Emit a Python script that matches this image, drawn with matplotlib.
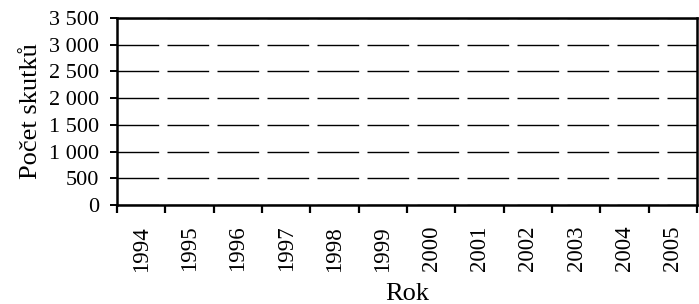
import matplotlib
matplotlib.use("Agg")
import matplotlib.pyplot as plt
import numpy as np

# chart has axes and grid only, no series drawn
years = ["1994", "1995", "1996", "1997", "1998", "1999",
         "2000", "2001", "2002", "2003", "2004", "2005"]
y_ticks = [0, 500, 1000, 1500, 2000, 2500, 3000, 3500]
y_labels = ["0", "500", "1 000", "1 500", "2 000", "2 500", "3 000", "3 500"]

plt.rcParams['font.family'] = ['Liberation Serif', 'DejaVu Serif']

fig = plt.figure(figsize=(6.99, 3.04), dpi=100)
ax = fig.add_axes([117/699, 1 - 205/304, 580/699, 187/304])

n = len(years)
ax.set_xlim(0, n)
ax.set_ylim(0, 3500)

# category ticks sit on the boundaries, labels in the middle
ax.set_xticks(np.arange(n + 1))
ax.set_xticklabels([])
ax.set_xticks(np.arange(n) + 0.5, minor=True)
ax.set_xticklabels(years, minor=True, rotation=90, fontsize=16.5)
ax.tick_params(axis="x", which="major", direction="out", length=6, width=1.6, color="black")
ax.tick_params(axis="x", which="minor", length=0, pad=15)

ax.set_yticks(y_ticks)
ax.set_yticklabels(y_labels, fontsize=16)
ax.tick_params(axis="y", direction="out", length=5, width=1.4, pad=8)

ax.grid(axis="y", color="black", linewidth=1.0, linestyle=(0, (30, 6)))
ax.set_axisbelow(True)
for s in ax.spines.values():
    s.set_linewidth(1.8)
    s.set_color("black")

ax.set_ylabel("Počet skutků", fontsize=19, labelpad=5)
ax.set_xlabel("Rok", fontsize=19, labelpad=8)

fig.savefig("out.png", dpi=100)
